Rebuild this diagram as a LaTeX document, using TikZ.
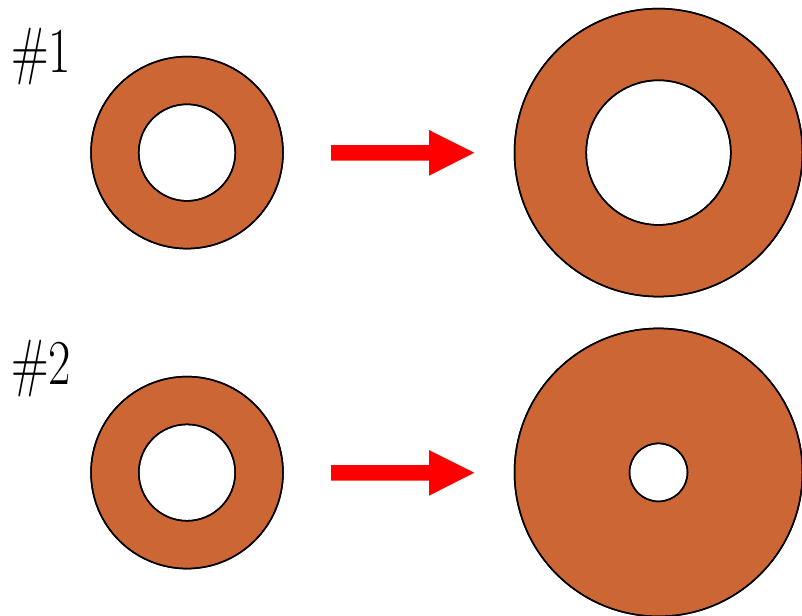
\documentclass[tikz,border=0pt]{standalone}
\definecolor{ringcol}{RGB}{204,103,53}
\definecolor{arrowred}{RGB}{255,0,0}
\tikzset{
  ring/.style={fill=ringcol, draw=black, line width=1.5pt, even odd rule},
  blockarrow/.style={fill=arrowred, draw=none},
  lbl/.style={font=\rmfamily\fontsize{64}{64}\selectfont, inner sep=0pt, anchor=base west, xscale=0.76, transform shape}
}
\begin{document}
\begin{tikzpicture}[x=1pt,y=-1pt]
\useasboundingbox (0,0) rectangle (802,615);
% labels
\node[lbl] (l1) at (11,72.7) {\#1};
\node[lbl] (l2) at (11,384.3) {\#2};
% row 1
\coordinate (s1) at (187,152.6);
\coordinate (b1) at (658.5,152.6);
\fill[ring] (s1) circle[radius=96] (s1) circle[radius=48.3];
\draw[line width=1.5pt] (s1) circle[radius=96] (s1) circle[radius=48.3];
\fill[ring] (b1) circle[radius=144] (b1) circle[radius=72.3];
\draw[line width=1.5pt] (b1) circle[radius=144] (b1) circle[radius=72.3];
% row 2
\coordinate (s2) at (187,472.6);
\coordinate (b2) at (658.5,472.4);
\fill[ring] (s2) circle[radius=96] (s2) circle[radius=48.2];
\draw[line width=1.5pt] (s2) circle[radius=96] (s2) circle[radius=48.2];
\fill[ring] (b2) circle[radius=144] (b2) circle[radius=29];
\draw[line width=1.5pt] (b2) circle[radius=144] (b2) circle[radius=29];
% arrows
\foreach \dy in {0,320}{
  \fill[blockarrow] (331,145+\dy) -- (429,145+\dy) -- (429,130+\dy) -- (474.3,152.7+\dy)
    -- (429,175.7+\dy) -- (429,160.7+\dy) -- (331,160.7+\dy) -- cycle;
}
\end{tikzpicture}
\end{document}
